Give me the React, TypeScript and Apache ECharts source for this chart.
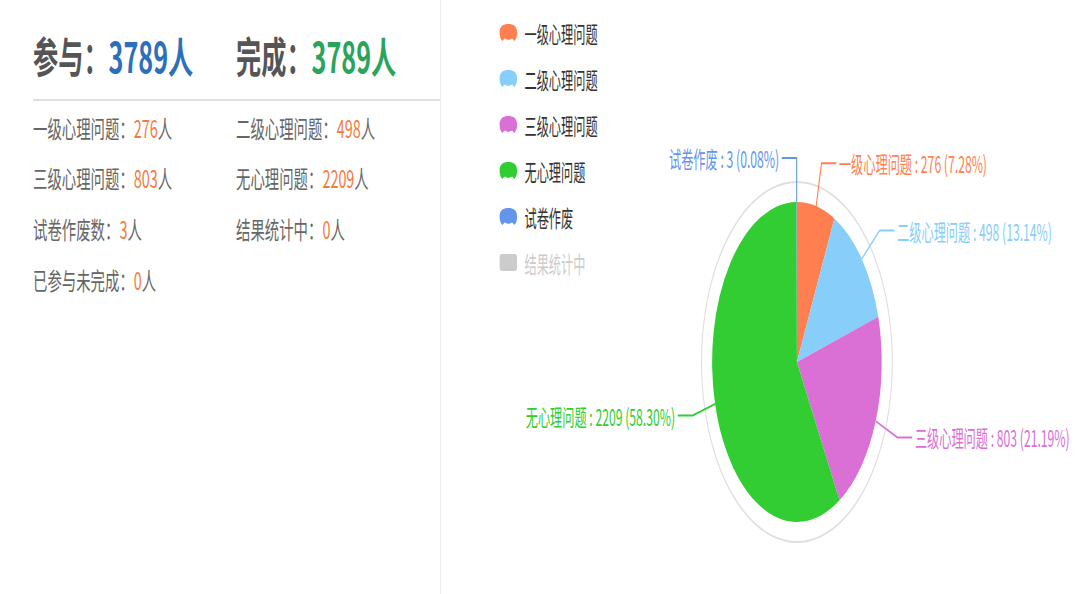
import React, { useEffect, useRef } from "react";
import * as echarts from "echarts";

// ---- data ----
const categories = ["一级心理问题", "二级心理问题", "三级心理问题", "无心理问题", "试卷作废", "结果统计中"];
const values = [276, 498, 803, 2209, 3, 0];
const hiddenCategories = ["结果统计中"];

const headingLabels = ["参与", "完成"];
const headingValues = [3789, 3789];

const statLabels = ["一级心理问题", "二级心理问题", "三级心理问题", "无心理问题", "试卷作废数", "结果统计中", "已参与未完成"];
const statValues = [276, 498, 803, 2209, 3, 0, 0];

// ---- styles ----
const colors = ["#ff7f50", "#87cefa", "#da70d6", "#32cd32", "#6495ed", "#ff69b4"];
const headingColors = ["#2c6fba", "#2aa35d"];
const FONT = "'Noto Sans CJK SC', 'Noto Sans', sans-serif";
const ICON =
  "path://M0,50 C0,12 22,0 50,0 C78,0 100,12 100,50 C100,76 94,90 84,100 L72,86 L50,94 L28,86 L16,100 C6,90 0,76 0,50 Z";

const SX_CHART = 0.53;
const SX_TEXT = 0.6;

function Chart() {
  const ref = useRef<HTMLDivElement>(null);
  useEffect(() => {
    if (!ref.current) return;
    const chart = echarts.init(ref.current, null, { renderer: "svg" });
    const center = [664, 362];
    const total = values.reduce((a, b) => a + b, 0);
    const selected: Record<string, boolean> = {};
    categories.forEach((c) => (selected[c] = !hiddenCategories.includes(c)));
    chart.setOption({
      animation: false,
      color: colors,
      textStyle: { fontFamily: FONT },
      legend: {
        orient: "vertical",
        left: 98,
        top: 16,
        itemWidth: 33,
        itemHeight: 17,
        itemGap: 23,
        symbolKeepAspect: false,
        textStyle: { fontSize: 23, color: "#333", fontFamily: FONT, padding: [0, 0, 0, 9] },
        inactiveColor: "#ccc",
        selected,
        data: categories.map((n) => ({
          name: n,
          icon: hiddenCategories.includes(n) ? "roundRect" : ICON,
        })),
      },
      series: [
        {
          type: "pie",
          silent: true,
          center,
          radius: [179, 181],
          label: { show: false },
          labelLine: { show: false },
          itemStyle: { color: "#e2dde0" },
          data: [{ value: 1, name: "__ring" }],
          z: 1,
        },
        {
          type: "pie",
          center,
          radius: [0, 160],
          startAngle: 90,
          clockwise: true,
          avoidLabelOverlap: true,
          label: {
            show: true,
            position: "outside",
            formatter: (p: any) =>
              `${p.name} : ${p.value} (${((p.value / total) * 100).toFixed(2)}%)`,
            fontSize: 23,
            fontFamily: FONT,
          },
          labelLine: { show: true, length: 44, length2: 28, smooth: false, lineStyle: { width: 2 } },
          data: categories.map((n, i) => ({
            name: n,
            value: values[i],
            label: { color: colors[i] },
          })),
          z: 2,
        },
      ],
    });
    return () => chart.dispose();
  }, []);
  return <div ref={ref} style={{ width: 1300, height: 594 }} />;
}

export default function App() {
  useEffect(() => {
    document.body.style.margin = "0";
    document.body.style.overflow = "hidden";
    document.documentElement.style.overflow = "hidden";
  }, []);
  const rowCenters = [128, 178, 229, 280];
  const colLeft = [33, 236];
  return (
    <div
      style={{
        position: "fixed",
        left: 0,
        top: 0,
        width: 1077,
        height: 594,
        overflow: "hidden",
        background: "#fff",
        fontFamily: FONT,
      }}
    >
      {/* left summary panel */}
      <div
        style={{
          position: "absolute",
          left: 0,
          top: 0,
          width: 440 / SX_TEXT,
          height: 594,
          transform: `scaleX(${SX_TEXT})`,
          transformOrigin: "0 0",
        }}
      >
        {headingLabels.map((h, i) => (
          <div
            key={h}
            style={{
              position: "absolute",
              left: colLeft[i] / SX_TEXT,
              top: 34,
              height: 42,
              lineHeight: "42px",
              fontSize: 42,
              fontWeight: "bold",
              whiteSpace: "nowrap",
              color: "#555",
            }}
          >
            {h}：<span style={{ color: headingColors[i] }}>{headingValues[i]}人</span>
          </div>
        ))}
        <div
          style={{
            position: "absolute",
            left: 33 / SX_TEXT,
            top: 99,
            width: (440 - 33) / SX_TEXT,
            height: 2,
            background: "#dedede",
          }}
        />
        {statLabels.map((s, i) => (
          <div
            key={s}
            style={{
              position: "absolute",
              left: colLeft[i % 2] / SX_TEXT,
              top: rowCenters[Math.floor(i / 2)] - 12,
              height: 24,
              lineHeight: "24px",
              fontSize: 24,
              whiteSpace: "nowrap",
              color: "#666",
            }}
          >
            {s}：<span style={{ color: "#f47b3e" }}>{statValues[i]}</span>人
          </div>
        ))}
      </div>
      {/* vertical divider */}
      <div style={{ position: "absolute", left: 440, top: 0, width: 1, height: 594, background: "#eeeeee" }} />
      {/* chart */}
      <div
        style={{
          position: "absolute",
          left: 445,
          top: 0,
          transform: `scaleX(${SX_CHART})`,
          transformOrigin: "0 0",
        }}
      >
        <Chart />
      </div>
    </div>
  );
}
